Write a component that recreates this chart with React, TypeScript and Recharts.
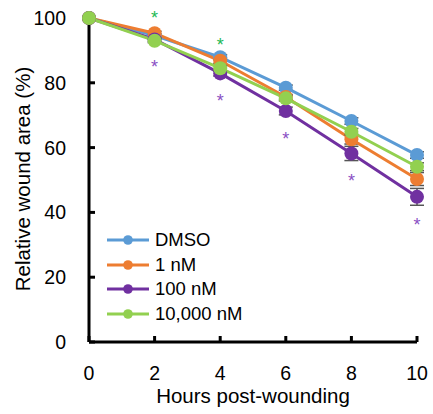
import React from 'react';
import { LineChart, Line, XAxis, YAxis, ErrorBar, LabelList, Label } from 'recharts';

const hours = [0, 2, 4, 6, 8, 10];
const dmso = [100, 94.6, 87.9, 78.5, 68.2, 57.7];
const nM1 = [100, 95.3, 86.8, 75.6, 62.6, 50.3];
const nM100 = [100, 93.4, 82.9, 71.3, 58.2, 44.8];
const nM10000 = [100, 93.0, 84.5, 75.2, 64.9, 54.1];
const dmsoErr = [0, 0.6, 0.8, 0.8, 1.0, 1.0];
const nM1Err = [0, 0.6, 0.8, 0.8, 1.5, 2.0];
const nM100Err = [0, 0.6, 0.8, 1.2, 2.2, 2.6];
const nM10000Err = [0, 0.6, 0.8, 0.8, 1.0, 1.2];
const sig100 = [false, true, true, true, true, true];
const sig10000 = [false, true, true, false, false, false];
const yTicks = [0, 20, 40, 60, 80, 100];
const xTicks = [0, 2, 4, 6, 8, 10];

const data = hours.map((h, i) => ({
  h,
  dmso: dmso[i],
  nM1: nM1[i],
  nM100: nM100[i],
  nM10000: nM10000[i],
  dmsoErr: dmsoErr[i],
  nM1Err: nM1Err[i],
  nM100Err: nM100Err[i],
  nM10000Err: nM10000Err[i],
}));

const FONT = '"Liberation Sans", Arial, sans-serif';

const series = [
  { key: 'dmso', name: 'DMSO', color: '#5B9BD5', err: 'dmsoErr' },
  { key: 'nM1', name: '1 nM', color: '#ED7D31', err: 'nM1Err' },
  { key: 'nM100', name: '100 nM', color: '#7030A0', err: 'nM100Err' },
  { key: 'nM10000', name: '10,000 nM', color: '#92D050', err: 'nM10000Err' },
];

const starBelow = (props: any) => {
  const { x, y, index } = props;
  if (!sig100[index]) return null;
  return (
    <text x={x} y={y + 34} textAnchor="middle" fontSize={18} fill="#8A4FC4" fontFamily={FONT}>
      *
    </text>
  );
};

const starAbove = (props: any) => {
  const { x, y, index } = props;
  if (!sig10000[index]) return null;
  return (
    <text x={x} y={y - 17} textAnchor="middle" fontSize={18} fill="#1DB954" fontFamily={FONT}>
      *
    </text>
  );
};

const Legend = () => (
  <div style={{ position: 'absolute', left: 107, top: 227.6, fontFamily: FONT, fontSize: 18.5, color: '#000' }}>
    {series.map((s) => (
      <div key={s.key} style={{ display: 'flex', alignItems: 'center', height: 24.7 }}>
        <svg width={42} height={12} style={{ marginRight: 6 }}>
          <line x1={0} y1={6} x2={42} y2={6} stroke={s.color} strokeWidth={3} />
          <circle cx={21} cy={6} r={4.8} fill={s.color} />
        </svg>
        <span>{s.name}</span>
      </div>
    ))}
  </div>
);

export default function App() {
  return (
    <div style={{ position: 'absolute', left: 0, top: 0, width: 433, height: 414, background: '#fff' }}>
      <LineChart width={433} height={414} data={data} margin={{ top: 18, right: 16, bottom: 42, left: 29 }}>
        <XAxis
          dataKey="h"
          type="number"
          domain={[0, 10]}
          ticks={xTicks}
          height={30}
          tickSize={-6}
          tickMargin={30}
          axisLine={{ stroke: '#000', strokeWidth: 3 }}
          tickLine={{ stroke: '#000', strokeWidth: 3 }}
          tick={{ fill: '#000', fontSize: 19.5, fontFamily: FONT }}
        >
          <Label
            content={() => (
              <text x={253} y={403} textAnchor="middle" fontSize={20.5} fontFamily={FONT} fill="#000">
                Hours post-wounding
              </text>
            )}
          />
        </XAxis>
        <YAxis
          type="number"
          domain={[0, 100]}
          ticks={yTicks}
          width={60}
          tickSize={-6}
          tickMargin={29}
          axisLine={{ stroke: '#000', strokeWidth: 3 }}
          tickLine={{ stroke: '#000', strokeWidth: 3 }}
          tick={{ fill: '#000', fontSize: 19.5, fontFamily: FONT }}
        >
          <Label
            content={() => (
              <text
                x={0}
                y={0}
                transform="translate(29.5,179) rotate(-90)"
                textAnchor="middle"
                fontSize={20.5}
                fontFamily={FONT}
                fill="#000"
              >
                Relative wound area (%)
              </text>
            )}
          />
        </YAxis>
        {series.map((s) => (
          <Line
            key={s.key}
            dataKey={s.key}
            name={s.name}
            stroke={s.color}
            strokeWidth={3}
            dot={{ r: 7, fill: s.color, stroke: s.color, strokeWidth: 0 }}
            isAnimationActive={false}
          >
            <ErrorBar dataKey={s.err} width={7} stroke="#555" strokeWidth={1.5} direction="y" />
            {s.key === 'nM100' && <LabelList dataKey={s.key} content={starBelow} />}
            {s.key === 'nM10000' && <LabelList dataKey={s.key} content={starAbove} />}
          </Line>
        ))}
      </LineChart>
      <Legend />
    </div>
  );
}
